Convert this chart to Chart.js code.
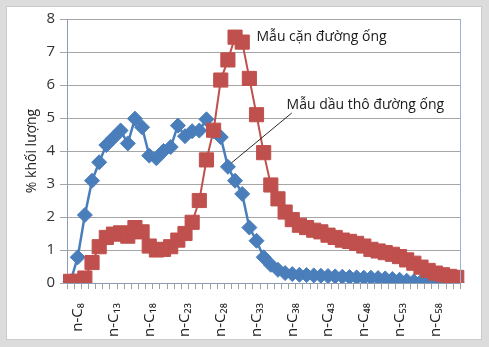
<!DOCTYPE html>
<html>
<head>
<meta charset="utf-8">
<script src="https://cdn.jsdelivr.net/npm/chart.js@4"></script>
<style>
  html, body { margin: 0; padding: 0; background: #ffffff; }
  #wrap { position: relative; width: 489px; height: 347px; background: #dcdcdc; overflow: hidden; }
  #inner { position: absolute; left: 6px; top: 6px; width: 474px; height: 332px; background: #ffffff; border: 1px solid #cbcbcb; }
  #c { position: absolute; left: 0; top: 0; }
</style>
</head>
<body>
<div id="wrap">
  <div id="inner"></div>
  <canvas id="c" width="489" height="347"></canvas>
</div>
<script>
// Categories: n-alkanes C7 .. C61
const categories = [
  'n-C₇','n-C₈','n-C₉','n-C₁₀','n-C₁₁','n-C₁₂','n-C₁₃','n-C₁₄','n-C₁₅','n-C₁₆',
  'n-C₁₇','n-C₁₈','n-C₁₉','n-C₂₀','n-C₂₁','n-C₂₂','n-C₂₃','n-C₂₄','n-C₂₅','n-C₂₆',
  'n-C₂₇','n-C₂₈','n-C₂₉','n-C₃₀','n-C₃₁','n-C₃₂','n-C₃₃','n-C₃₄','n-C₃₅','n-C₃₆',
  'n-C₃₇','n-C₃₈','n-C₃₉','n-C₄₀','n-C₄₁','n-C₄₂','n-C₄₃','n-C₄₄','n-C₄₅','n-C₄₆',
  'n-C₄₇','n-C₄₈','n-C₄₉','n-C₅₀','n-C₅₁','n-C₅₂','n-C₅₃','n-C₅₄','n-C₅₅','n-C₅₆',
  'n-C₅₇','n-C₅₈','n-C₅₉','n-C₆₀','n-C₆₁'
];
// Labels shown on the x axis
const shownTicks = ['n-C₈','n-C₁₃','n-C₁₈','n-C₂₃','n-C₂₈','n-C₃₃','n-C₃₈','n-C₄₃','n-C₄₈','n-C₅₃','n-C₅₈'];
const yTicks = [0, 1, 2, 3, 4, 5, 6, 7, 8];

// Mẫu cặn đường ống (red squares)
const canValues = [
  0.05, 0.05, 0.15, 0.62, 1.1, 1.38, 1.48, 1.52, 1.42, 1.68,
  1.55, 1.12, 1.0, 1.02, 1.1, 1.3, 1.5, 1.84, 2.5, 3.73,
  4.63, 6.15, 6.76, 7.45, 7.3, 6.2, 5.1, 3.95, 2.97, 2.55,
  2.15, 1.92, 1.75, 1.68, 1.6, 1.55, 1.45, 1.38, 1.3, 1.26,
  1.2, 1.12, 1.02, 0.97, 0.92, 0.87, 0.8, 0.7, 0.6, 0.48,
  0.38, 0.3, 0.25, 0.2, 0.17
];
// Mẫu dầu thô đường ống (blue diamonds)
const dauThoValues = [
  0.05, 0.78, 2.06, 3.1, 3.66, 4.18, 4.4, 4.62, 4.23, 4.98,
  4.72, 3.86, 3.78, 4.0, 4.12, 4.77, 4.45, 4.6, 4.62, 4.96,
  4.6, 4.42, 3.52, 3.1, 2.7, 1.68, 1.28, 0.78, 0.55, 0.4,
  0.3, 0.27, 0.25, 0.24, 0.23, 0.22, 0.21, 0.2, 0.19, 0.18,
  0.17, 0.16, 0.16, 0.15, 0.14, 0.12, 0.1, 0.07, 0.05, 0.04,
  0.03, 0.02, 0.01, 0.01, 0.0
];

const seriesNames = ['Mẫu cặn đường ống', 'Mẫu dầu thô đường ống'];
const yTitle = '% khối lượng';

// Annotation anchors in data space (category index, value)
const labelCan = { x: 26, y: 7.45 };
const labelDauTho = { x: 30.2, y: 5.39 };
const leaderFrom = { x: 30.92, y: 5.15 };
const leaderTo = { x: 22.5, y: 3.64 };

const FONT = "'Open Sans', 'DejaVu Sans', sans-serif";

const overlay = {
  id: 'overlay',
  afterDatasetsDraw(chart) {
    const { ctx, chartArea: a, scales: { x, y } } = chart;
    ctx.save();
    // right border of plot area
    ctx.strokeStyle = '#95b3d7';
    ctx.lineWidth = 1;
    ctx.beginPath();
    ctx.moveTo(Math.round(a.right) + 0.5, a.top);
    ctx.lineTo(Math.round(a.right) + 0.5, a.bottom);
    ctx.stroke();
    // leader line
    ctx.strokeStyle = '#111';
    ctx.lineWidth = 0.9;
    ctx.beginPath();
    ctx.moveTo(x.getPixelForValue(leaderFrom.x), y.getPixelForValue(leaderFrom.y));
    ctx.lineTo(x.getPixelForValue(leaderTo.x), y.getPixelForValue(leaderTo.y));
    ctx.stroke();
    // labels
    ctx.fillStyle = '#1a1a1a';
    ctx.font = '14px ' + FONT;
    ctx.textAlign = 'left';
    ctx.textBaseline = 'middle';
    ctx.fillText(seriesNames[0], x.getPixelForValue(labelCan.x), y.getPixelForValue(labelCan.y));
    ctx.fillText(seriesNames[1], x.getPixelForValue(labelDauTho.x), y.getPixelForValue(labelDauTho.y));
    ctx.restore();
  }
};

new Chart(document.getElementById('c'), {
  type: 'line',
  data: {
    labels: categories,
    datasets: [
      {
        label: seriesNames[0],
        data: canValues,
        borderColor: '#c0504d',
        backgroundColor: '#c0504d',
        borderWidth: 2,
        pointStyle: 'rect',
        pointRadius: 10,
        pointBorderWidth: 1,
        pointBackgroundColor: '#c0504d',
        pointBorderColor: '#c0504d',
        tension: 0
      },
      {
        label: seriesNames[1],
        data: dauThoValues,
        borderColor: '#4a7ebb',
        backgroundColor: '#4a7ebb',
        borderWidth: 2.5,
        pointStyle: 'rectRot',
        pointRadius: 7.5,
        pointBorderWidth: 1,
        pointBackgroundColor: '#4a7ebb',
        pointBorderColor: '#4a7ebb',
        tension: 0
      }
    ]
  },
  options: {
    responsive: false,
    animation: false,
    devicePixelRatio: 1,
    layout: { padding: { top: 19, right: 27, left: 0, bottom: 0 } },
    plugins: { legend: { display: false }, tooltip: { enabled: false } },
    scales: {
      x: {
        type: 'category',
        offset: true,
        grid: { offset: true, drawOnChartArea: false, drawTicks: true, tickLength: 6, color: '#a0a0a0' },
        border: { color: '#8c9cb5', width: 1 },
        ticks: {
          autoSkip: false,
          minRotation: 90,
          maxRotation: 90,
          padding: 14,
          color: '#222',
          font: { size: 15, family: FONT },
          callback: function (v, i) {
            const lab = this.getLabelForValue(v);
            return shownTicks.includes(lab) ? lab : '';
          }
        },
        afterFit(scale) { scale.height = 64; }
      },
      y: {
        min: yTicks[0],
        max: yTicks[yTicks.length - 1],
        afterBuildTicks(scale) { scale.ticks = yTicks.map(v => ({ value: v })); },
        grid: { color: '#a6a6a6', tickLength: 7, lineWidth: 1 },
        border: { color: '#8c9cb5', width: 1 },
        ticks: { padding: 5, color: '#333', font: { size: 15, family: FONT } },
        title: { display: true, text: yTitle, color: '#222', font: { size: 14, family: FONT }, padding: { top: 24, bottom: 0 } },
        afterFit(scale) { scale.width = 67; }
      }
    }
  },
  plugins: [overlay]
});
</script>
</body>
</html>
